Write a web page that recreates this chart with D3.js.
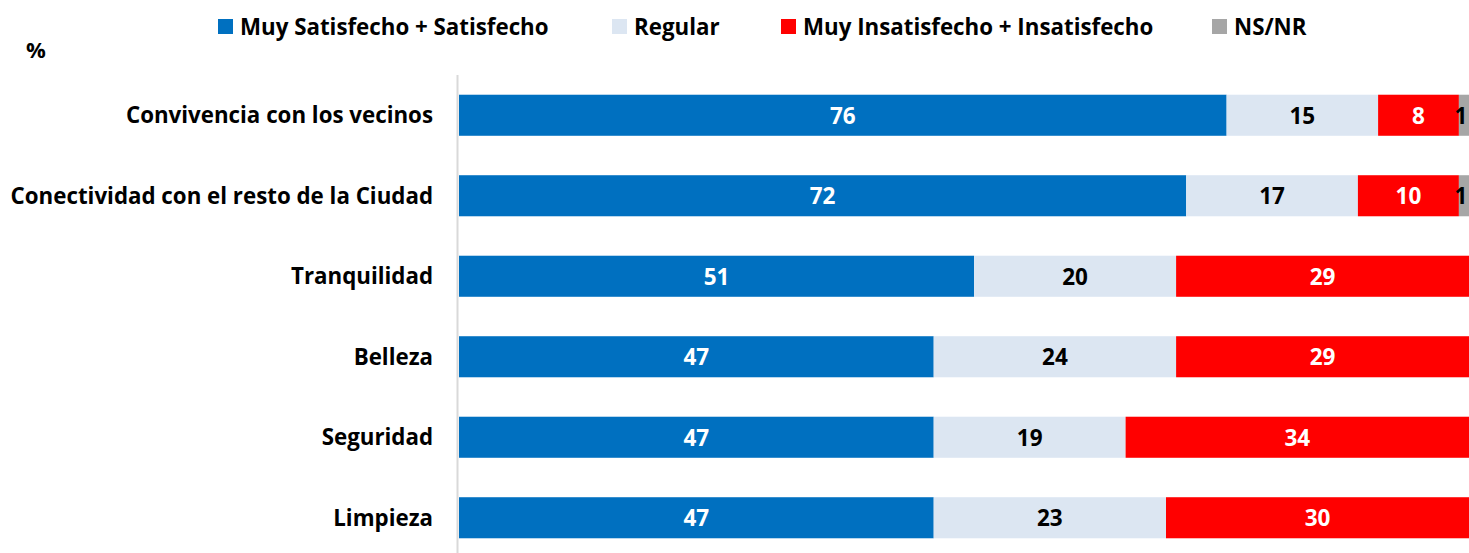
<!DOCTYPE html>
<html>
<head>
<meta charset="utf-8">
<script src="https://cdn.jsdelivr.net/npm/d3@7"></script>
<style>
  body { margin: 0; background: #fff; }
  text { font-family: "Open Sans", Lato, sans-serif; font-weight: bold; }
</style>
</head>
<body>
<div id="chart"></div>
<script>
// chart size
const width = 1469;
const height = 553;
const margin = {left: 459, right: 0, top: 95, bottom: 15};

// data
const categories = ["Convivencia con los vecinos", "Conectividad con el resto de la Ciudad",
  "Tranquilidad", "Belleza", "Seguridad", "Limpieza"];
const seriesNames = ["Muy Satisfecho + Satisfecho", "Regular", "Muy Insatisfecho + Insatisfecho", "NS/NR"];
const satisfecho = [76, 72, 51, 47, 47, 47];
const regular = [15, 17, 20, 24, 19, 23];
const insatisfecho = [8, 10, 29, 29, 34, 30];
const nsnr = [1, 1, 0, 0, 0, 0];

const colors = ["#0070C0", "#DCE6F2", "#FF0000", "#A6A6A6"];
const labelColors = ["#fff", "#000", "#fff", "#000"];

const rows = categories.map((c, i) => ({
  cat: c,
  "Muy Satisfecho + Satisfecho": satisfecho[i],
  "Regular": regular[i],
  "Muy Insatisfecho + Insatisfecho": insatisfecho[i],
  "NS/NR": nsnr[i]
}));

const stacked = d3.stack().keys(seriesNames)(rows);

const svg = d3.select("#chart").append("svg")
  .attr("width", width)
  .attr("height", height);

// scales
const xScale = d3.scaleLinear()
  .domain([0, 100])
  .range([margin.left, width - margin.right]);

const yScale = d3.scaleBand()
  .domain(categories)
  .range([75, 558])
  .paddingInner(0.49)
  .paddingOuter(0.245);

// vertical axis line
svg.append("line")
  .attr("x1", 457.5).attr("x2", 457.5)
  .attr("y1", 75).attr("y2", height)
  .attr("stroke", "#D9D9D9")
  .attr("stroke-width", 2);

// category labels
svg.append("g")
  .selectAll("text")
  .data(categories)
  .join("text")
    .attr("x", 433)
    .attr("y", d => yScale(d) + yScale.bandwidth() / 2)
    .attr("dy", "0.35em")
    .attr("text-anchor", "end")
    .attr("font-size", "22.3px")
    .attr("fill", "#000")
    .text(d => d);

// bars
const layers = svg.append("g")
  .selectAll("g")
  .data(stacked)
  .join("g")
    .attr("fill", (d, i) => colors[i]);

layers.selectAll("rect")
  .data(d => d)
  .join("rect")
    .attr("x", d => xScale(d[0]))
    .attr("y", d => yScale(d.data.cat))
    .attr("width", d => xScale(d[1]) - xScale(d[0]))
    .attr("height", yScale.bandwidth());

// value labels
stacked.forEach((layer, k) => {
  svg.append("g")
    .selectAll("text")
    .data(layer.filter(d => d[1] - d[0] > 0))
    .join("text")
      .attr("x", d => (xScale(d[0]) + xScale(d[1])) / 2 - (k === 3 ? 3 : 0))
      .attr("y", d => yScale(d.data.cat) + yScale.bandwidth() / 2)
      .attr("dy", "0.37em")
      .attr("text-anchor", "middle")
      .attr("font-size", "22.5px")
      .attr("fill", labelColors[k])
      .text(d => d[1] - d[0]);
});

// legend
const legendX = [218, 612, 781, 1212];
const legend = svg.append("g")
  .selectAll("g")
  .data(seriesNames)
  .join("g")
    .attr("transform", (d, i) => `translate(${legendX[i]}, 19)`);

legend.append("rect")
  .attr("width", 15)
  .attr("height", 15)
  .attr("fill", (d, i) => colors[i]);

legend.append("text")
  .attr("x", 22)
  .attr("y", 8)
  .attr("dy", "0.35em")
  .attr("font-size", "22.3px")
  .attr("fill", "#000")
  .text(d => d);

// percent sign
svg.append("text")
  .attr("x", 26)
  .attr("y", 50)
  .attr("dy", "0.35em")
  .attr("font-size", "22px")
  .attr("fill", "#000")
  .text("%");
</script>
</body>
</html>
